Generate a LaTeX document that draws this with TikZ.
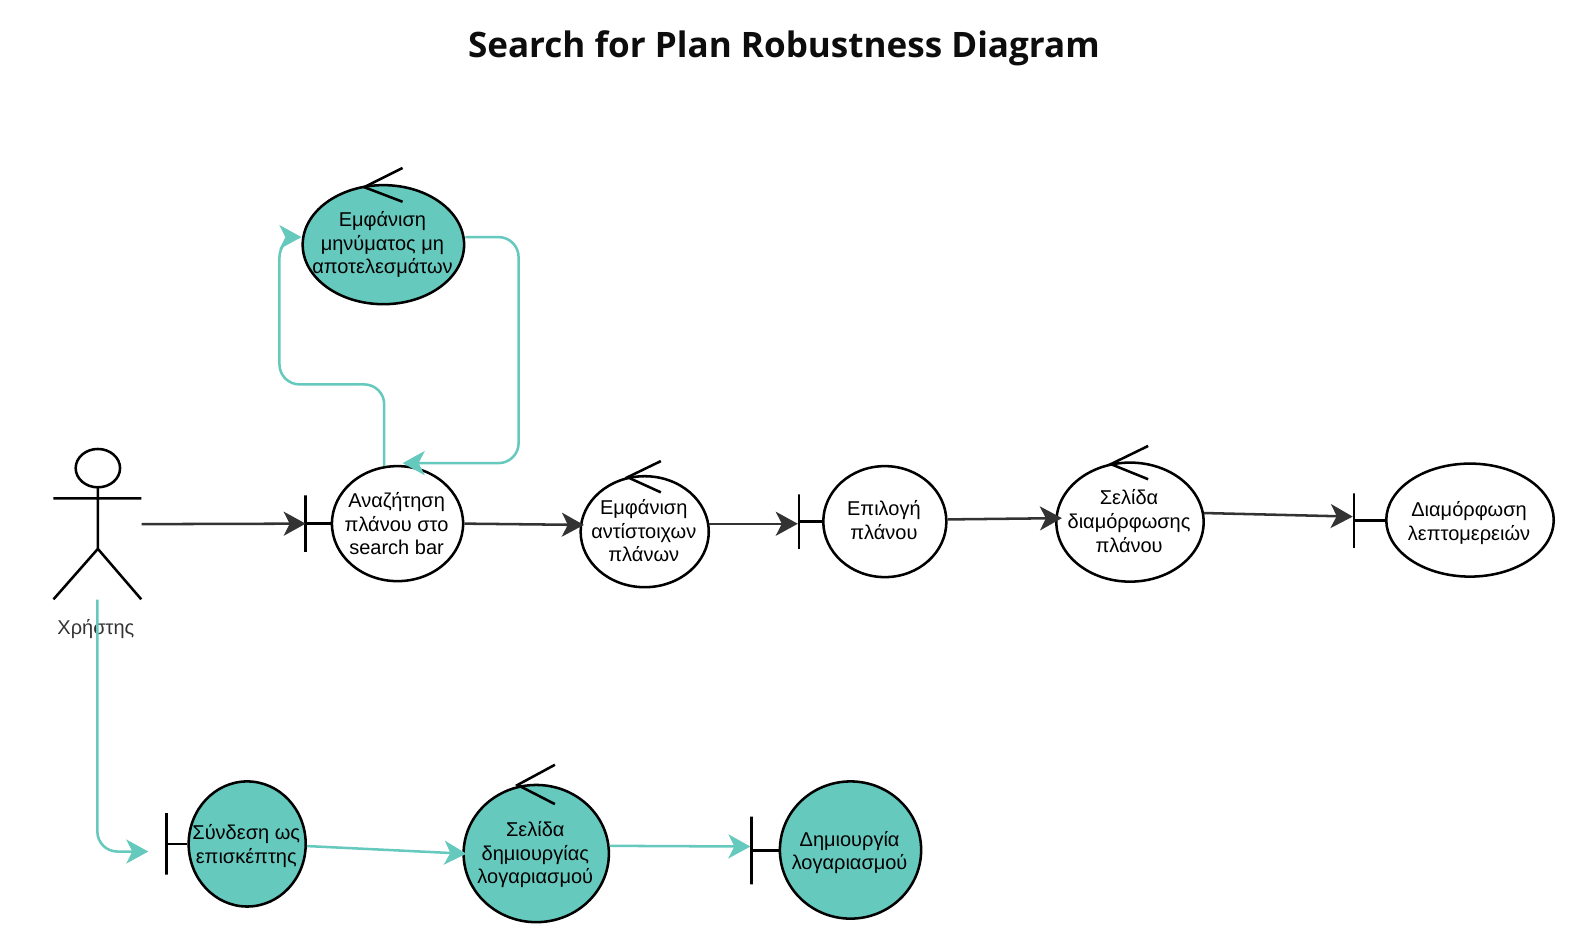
\documentclass[tikz,border=0pt]{standalone}
\usepackage{fontspec}
\setmainfont{Liberation Sans}
\newfontfamily\titlefont{Open Sans}
\usetikzlibrary{shapes.geometric,arrows.meta}
\definecolor{tealc}{HTML}{66C9BE}
\definecolor{darkc}{HTML}{333333}
\tikzset{
  x=0.7568pt,y=-0.7568pt,
  wh/.style 2 args={minimum width=#1*0.7568pt,minimum height=#2*0.7568pt},
  lab/.style={align=center,inner sep=0pt,xshift=-0.7pt,font=\fontsize{15}{17.7}\selectfont},
  obj/.style 2 args={ellipse,draw=black,line width=1.9pt,inner sep=0pt,fill=white,label={[lab,yshift=#2]center:#1}},
  tealobj/.style 2 args={obj={#1}{#2},fill=tealc},
  bar/.style={draw=black,line width=1.9pt,inner sep=0pt,shape=rectangle},
  part/.style={draw=black,line width=1.9pt},
  flow/.style={draw=darkc,line width=1.9pt,-{Stealth[length=16.5pt,width=18pt,inset=4.5pt]}},
  tflow/.style={draw=tealc,line width=1.9pt,rounded corners=15pt,-{Stealth[length=16.5pt,width=18pt,inset=4.5pt]}},
}
\begin{document}
\begin{tikzpicture}
\useasboundingbox (0,0) rectangle (1568,931.7);
\node[font=\titlefont\bfseries\fontsize{26.3}{30}\selectfont,text=black!95] (title) at (777,47.6) {Search for Plan Robustness Diagram};

% actor
\node[wh={87}{149},inner sep=0pt] (actor) at (96.5,519.5) {};
\draw[part] (97,464) ellipse (22 and 19);
\draw[part] (97,483) -- (97,544) (53,494) -- (140,494) (53,594) -- (97,544) -- (140,594);
\node[text=darkc,font=\fontsize{15}{18}\selectfont] (actorlabel) at (95,623) {Χρήστης};

% objects
\node[tealobj={Εμφάνιση\\μηνύματος μη\\αποτελεσμάτων}{0pt},wh={160}{118}] (msg) at (380,242.5) {};
\node[obj={Αναζήτηση\\πλάνου στο\\search bar}{0pt},wh={130}{114}] (search) at (394,519) {};
\node[obj={Εμφάνιση\\αντίστοιχων\\πλάνων}{0.75pt},wh={127}{110}] (show) at (639,527) {};
\node[obj={Επιλογή\\πλάνου}{1pt},wh={122}{110}] (select) at (877,517) {};
\node[obj={Σελίδα\\διαμόρφωσης\\πλάνου}{0.75pt},wh={146}{118}] (page) at (1120,517.5) {};
\node[obj={Διαμόρφωση\\λεπτομερειών}{-2pt},wh={166}{112}] (detail) at (1457,515.5) {};
\node[tealobj={Σύνδεση ως\\επισκέπτης}{-1.5pt},wh={116}{124}] (guest) at (245,836.5) {};
\node[tealobj={Σελίδα\\δημιουργίας\\λογαριασμού}{-1pt},wh={144}{136}] (create) at (531.5,846) {};
\node[tealobj={Δημιουργία\\λογαριασμού}{-2pt},wh={140}{136}] (acct) at (843,842.5) {};

% boundary bars
\node[bar,wh={0}{56}] (searchbar) at (303,519) {};
\node[bar,wh={0}{54}] (selectbar) at (792,517) {};
\node[bar,wh={0}{54}] (detailbar) at (1342,516) {};
\node[bar,wh={0}{61}] (guestbar) at (165,836.5) {};
\node[bar,wh={0}{67}] (acctbar) at (745,843) {};
\draw[part] (searchbar.center) -- (searchbar.center -| search.west);
\draw[part] (selectbar.center) -- (selectbar.center -| select.west);
\draw[part] (detailbar.center) -- (detailbar.center -| detail.west);
\draw[part] (guestbar.center) -- (guestbar.center -| guest.west);
\draw[part] (acctbar.center) -- (acctbar.center -| acct.west);

% control arrows
\draw[part] (399,166.5) -- (361,185.5) -- (399,200);
\draw[part] (655,457) -- (622,473) -- (655,488);
\draw[part] (1138,442) -- (1101,460) -- (1138,475);
\draw[part] (550,758) -- (513,778) -- (550,797);

% flows
\coordinate (guestin) at (147,844);
\coordinate (msgin) at (277,235);
\draw[flow] (actor.east) -- (searchbar.center);
\draw[flow,shorten >=-3pt] (search.east) -- (show.174);
\draw[flow] (show.7) -- (selectbar.west |- show.7);
\draw[flow,shorten >=-5pt] (select.2) -- (page.177);
\draw[flow] (page.7) -- ([yshift=3pt]detailbar.west);
\draw[tflow] (actor.south) |- (guestin);
\draw[tflow,shorten >=-3pt] (guest.-2) -- (create.west);
\draw[tflow] (create.6) -- ([yshift=3pt]acctbar.west);
\draw[tflow] (search.103) -- (search.103 |- 0,381) -- (277,381) -- (msgin) -- (msg.west |- msgin);
\draw[tflow] (msg.east |- msgin) -- (514,235) -- (514,459) -- (search.85 |- 0,459);
\end{tikzpicture}
\end{document}
